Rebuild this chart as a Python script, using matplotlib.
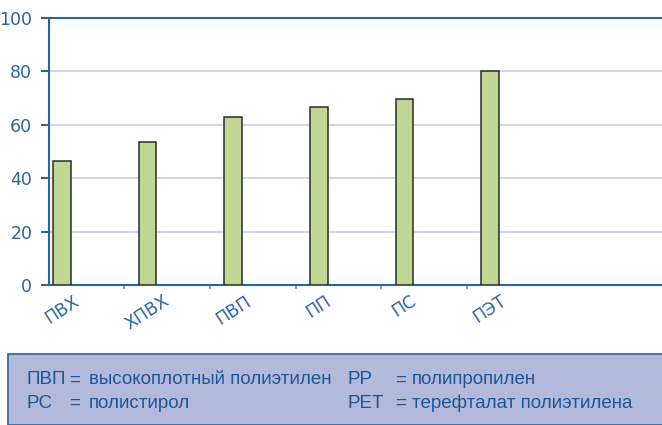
import matplotlib
matplotlib.use("Agg")
import matplotlib.pyplot as plt
from matplotlib.patches import Rectangle
import numpy as np

categories = ["ПВХ", "ХПВХ", "ПВП", "ПП", "ПС", "ПЭТ"]
values = [46.4, 53.6, 62.9, 66.8, 69.8, 80.0]
yticks = [0, 20, 40, 60, 80, 100]

legend_rows = [
    [("ПВП", "=", "высокоплотный полиэтилен"), ("PP", "=", "полипропилен")],
    [("PC", "=", "полистирол"), ("PET", "=", "терефталат полиэтилена")],
]

BLUE = "#2a65a3"
TXT = "#1d5697"
W, H = 662, 425
fig = plt.figure(figsize=(W / 100, H / 100), dpi=100)
ax = fig.add_axes([49 / W, 1 - 285 / H, (662 - 49) / W, (285 - 18) / H])

x = np.arange(len(categories))
offset = -0.23
ax.bar(x + offset, values, width=0.205, color="#c0d794", edgecolor="#2b2b2b",
       linewidth=1.1, zorder=3)

ax.set_xlim(-0.382, 6.78)
ax.set_ylim(0, 100)
ax.set_yticks(yticks)
for t in yticks[1:-1]:
    ax.axhline(t, color="#d3d6ea", linewidth=1.5, zorder=1)

ax.spines["right"].set_visible(False)
for s in ["left", "bottom", "top"]:
    ax.spines[s].set_color(BLUE)
    ax.spines[s].set_linewidth(1.5)

ax.tick_params(axis="y", colors=BLUE, labelcolor=BLUE, length=6, width=1.5,
               pad=6, labelsize=12.5)
ax.set_xticks(np.arange(len(categories) - 1) + 0.5)
ax.set_xticklabels([])
ax.tick_params(axis="x", colors="#888888", length=3, width=1.2)

for xi, lab in zip(x, categories):
    ax.annotate(lab, xy=(xi + offset, 0), xycoords=("data", "axes fraction"),
                xytext=(0, -5), textcoords="offset points", ha="center", va="top",
                rotation=33, color=BLUE, fontsize=12.5, family="DejaVu Sans")

# legend box
fig.patches.append(Rectangle((8 / W, 0), 1.0, (425 - 354) / H, transform=fig.transFigure,
                             facecolor="#b3b9da", edgecolor="#3a6aa6", linewidth=1.3,
                             zorder=0))
col_x = [(27, 69, 89), (348, 395, 412)]
row_y = [380, 403]
fam = ["Liberation Sans Narrow", "Liberation Sans", "DejaVu Sans"]
for r, row in enumerate(legend_rows):
    for c, (abbr, eq, desc) in enumerate(row):
        xa, xe, xd = col_x[c]
        yy = 1 - row_y[r] / H
        for xx, s in [(xa, abbr), (xe, eq), (xd, desc)]:
            fig.text(xx / W, yy, s, ha="left", va="center", color=TXT,
                     fontsize=13.5, family=fam)

fig.savefig("out.png", dpi=100)
